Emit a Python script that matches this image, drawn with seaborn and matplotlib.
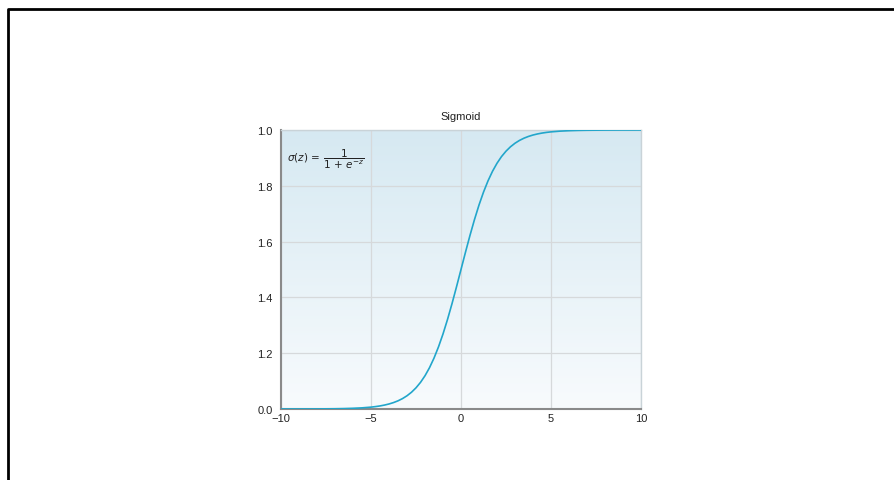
import numpy as np
import pandas as pd
import matplotlib
matplotlib.use("Agg")
import matplotlib.pyplot as plt
from matplotlib.lines import Line2D
from matplotlib.colors import LinearSegmentedColormap
import seaborn as sns

# ---- data ----
z_values = [-10, -9.5, -9, -8.5, -8, -7.5, -7, -6.5, -6, -5.5, -5,
            -4.75, -4.5, -4.25, -4, -3.75, -3.5, -3.25, -3, -2.75, -2.5, -2.25, -2,
            -1.75, -1.5, -1.25, -1, -0.75, -0.5, -0.25, 0,
            0.25, 0.5, 0.75, 1, 1.25, 1.5, 1.75, 2, 2.25, 2.5, 2.75, 3,
            3.25, 3.5, 3.75, 4, 4.25, 4.5, 4.75, 5,
            5.5, 6, 6.5, 7, 7.5, 8, 8.5, 9, 9.5, 10]
sigma_values = [0.0000, 0.0001, 0.0001, 0.0002, 0.0003, 0.0006, 0.0009, 0.0015, 0.0025, 0.0041, 0.0067,
                0.0086, 0.0110, 0.0141, 0.0180, 0.0230, 0.0293, 0.0373, 0.0474, 0.0601, 0.0759, 0.0954, 0.1192,
                0.1480, 0.1824, 0.2227, 0.2689, 0.3208, 0.3775, 0.4378, 0.5000,
                0.5622, 0.6225, 0.6792, 0.7311, 0.7773, 0.8176, 0.8520, 0.8808, 0.9047, 0.9241, 0.9399, 0.9526,
                0.9627, 0.9707, 0.9770, 0.9820, 0.9859, 0.9890, 0.9914, 0.9933,
                0.9959, 0.9975, 0.9985, 0.9991, 0.9994, 0.9997, 0.9998, 0.9999, 0.9999, 1.0000]
x_ticks = [-10, -5, 0, 5, 10]
x_tick_labels = ["\u221210", "\u22125", "0", "5", "10"]
y_ticks = [0.0, 0.2, 0.4, 0.6, 0.8, 1.0]
y_tick_labels = ["0.0", "1.2", "1.4", "1.6", "1.8", "1.0"]
title = "Sigmoid"
formula = r"$\sigma(z)\,=\,\dfrac{1}{1\,+\,e^{-z}}$"

df = pd.DataFrame({"z": z_values, "sigma": sigma_values})

sns.set_theme(style="white")
plt.rcParams["font.family"] = ["Liberation Sans", "DejaVu Sans"]
plt.rcParams["mathtext.fontset"] = "dejavusans"

W, H = 894, 481
fig = plt.figure(figsize=(W / 100, H / 100), dpi=100)
fig.patch.set_facecolor("white")

# outer frame (top and left edges)
fig.add_artist(Line2D([8 / W, 8 / W, 1.0], [0.0, 1 - 10 / H, 1 - 10 / H],
                      transform=fig.transFigure, color="black", lw=2.0))

ax = fig.add_axes([281 / W, 1 - 410 / H, (641 - 281) / W, (410 - 131) / H])

# background gradient
grad = np.linspace(0, 1, 256).reshape(-1, 1)
cmap = LinearSegmentedColormap.from_list("bg", ["#f8fbfd", "#d6e9f2"])
ax.imshow(grad, aspect="auto", cmap=cmap, origin="lower",
          extent=[0, 1, 0, 1], transform=ax.transAxes, zorder=0)

sns.lineplot(data=df, x="z", y="sigma", ax=ax, color="#22a6cb", lw=1.2, zorder=3)

ax.set_xlim(-10, 10)
ax.set_ylim(0, 1.0)
ax.set_xticks(x_ticks)
ax.set_xticklabels(x_tick_labels)
ax.set_yticks(y_ticks)
ax.set_yticklabels(y_tick_labels)
ax.tick_params(axis="both", length=0, labelsize=8, colors="#222222")
ax.tick_params(axis="y", pad=6)
ax.tick_params(axis="x", pad=3)
ax.set_xlabel("")
ax.set_ylabel("")
ax.grid(True, color="#d6d9db", lw=0.9, zorder=1)
ax.set_axisbelow(True)

for side in ["top", "right"]:
    ax.spines[side].set_color("#c9d3d8")
    ax.spines[side].set_linewidth(1.0)
ax.spines["left"].set_color("#8a8a8a")
ax.spines["left"].set_linewidth(1.5)
ax.spines["bottom"].set_color("#8a8a8a")
ax.spines["bottom"].set_linewidth(1.5)

ax.set_title(title, fontsize=8, color="#222222", pad=8)
ax.text(0.016, 0.9, formula, transform=ax.transAxes, fontsize=7.5,
        color="#222222", va="center", ha="left", zorder=4)

fig.savefig("out.png", dpi=100, facecolor="white")
